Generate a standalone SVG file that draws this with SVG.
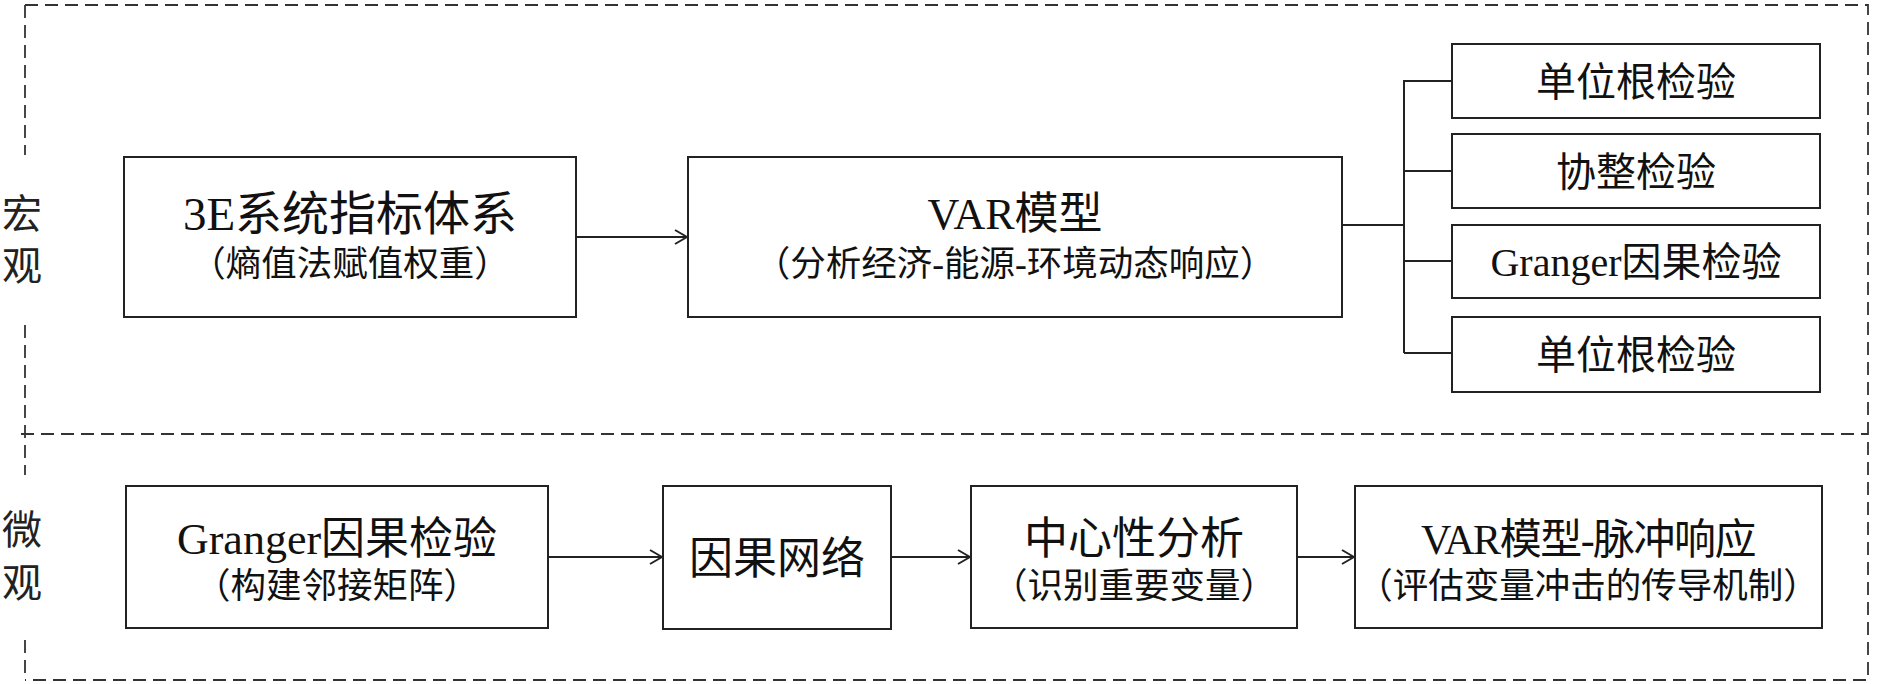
<svg xmlns="http://www.w3.org/2000/svg" width="1878" height="684" viewBox="0 0 1878 684">
<defs>
<style>
.box{fill:#fff;stroke:#222;stroke-width:2}
.dash{fill:none;stroke:#333;stroke-width:1.8;stroke-dasharray:13 7}
.ln{fill:none;stroke:#222;stroke-width:2}
.t{font-family:"Liberation Serif","Noto Sans CJK SC",serif;fill:#111;text-anchor:middle}
.tt{font-size:44px}
.st{font-size:35.5px}
.rt{font-size:40px}
.lb{font-family:"Liberation Serif","Noto Sans CJK SC",serif;font-size:40px;fill:#222;text-anchor:middle}
</style>
<marker id="arr" markerWidth="14" markerHeight="16" refX="13" refY="8" orient="auto" markerUnits="userSpaceOnUse">
<path d="M1,1 L13,8 L1,15" fill="none" stroke="#222" stroke-width="2"/>
</marker>
</defs>
<rect width="1878" height="684" fill="#fff"/>
<g id="frame">
<path class="dash" d="M25,5 H1868 V680 H25"/>
<path class="dash" d="M25,5 V155 M25,325 V475 M25,640 V680"/>
<path class="dash" d="M21,434 H1868"/>
</g>
<g id="label-macro">
<text class="lb" x="22" y="228">宏</text>
<text class="lb" x="22" y="280">观</text>
</g>
<g id="label-micro">
<text class="lb" x="22" y="544">微</text>
<text class="lb" x="22" y="597">观</text>
</g>
<g id="connectors">
<line class="ln" x1="576" y1="237" x2="687" y2="237" marker-end="url(#arr)"/>
<path class="ln" d="M1342,225 H1404 M1404,80 V353 M1404,81 H1452 M1404,171 H1452 M1404,261 H1452 M1404,353 H1452"/>
<line class="ln" x1="548" y1="557" x2="662" y2="557" marker-end="url(#arr)"/>
<line class="ln" x1="891" y1="557" x2="970" y2="557" marker-end="url(#arr)"/>
<line class="ln" x1="1297" y1="557" x2="1354" y2="557" marker-end="url(#arr)"/>
</g>
<g id="node-3e">
<rect class="box" x="124" y="157" width="452" height="160"/>
<text class="t" x="350" y="230" font-size="47">3E系统指标体系</text>
<text class="t st" x="350" y="276">（熵值法赋值权重）</text>
</g>
<g id="node-var">
<rect class="box" x="688" y="157" width="654" height="160"/>
<text class="t tt" x="1015" y="229">VAR模型</text>
<text class="t st" x="1015" y="276">（分析经济-能源-环境动态响应）</text>
</g>
<g id="node-unitroot1">
<rect class="box" x="1452" y="44" width="368" height="74"/>
<text class="t rt" x="1636" y="96">单位根检验</text>
</g>
<g id="node-coint">
<rect class="box" x="1452" y="134" width="368" height="74"/>
<text class="t rt" x="1636" y="186">协整检验</text>
</g>
<g id="node-granger1">
<rect class="box" x="1452" y="225" width="368" height="73"/>
<text class="t rt" x="1636" y="276">Granger因果检验</text>
</g>
<g id="node-unitroot2">
<rect class="box" x="1452" y="317" width="368" height="75"/>
<text class="t rt" x="1636" y="369">单位根检验</text>
</g>
<g id="node-granger2">
<rect class="box" x="126" y="486" width="422" height="142"/>
<text class="t tt" x="337" y="554">Granger因果检验</text>
<text class="t st" x="337" y="598">（构建邻接矩阵）</text>
</g>
<g id="node-network">
<rect class="box" x="663" y="486" width="228" height="143"/>
<text class="t tt" x="777" y="574">因果网络</text>
</g>
<g id="node-centrality">
<rect class="box" x="971" y="486" width="326" height="142"/>
<text class="t tt" x="1134" y="554">中心性分析</text>
<text class="t st" x="1134" y="598">（识别重要变量）</text>
</g>
<g id="node-irf">
<rect class="box" x="1355" y="486" width="467" height="142"/>
<text class="t" x="1588" y="554" font-size="42" letter-spacing="-1.5">VAR模型-脉冲响应</text>
<text class="t st" x="1588" y="598">（评估变量冲击的传导机制）</text>
</g>
</svg>
